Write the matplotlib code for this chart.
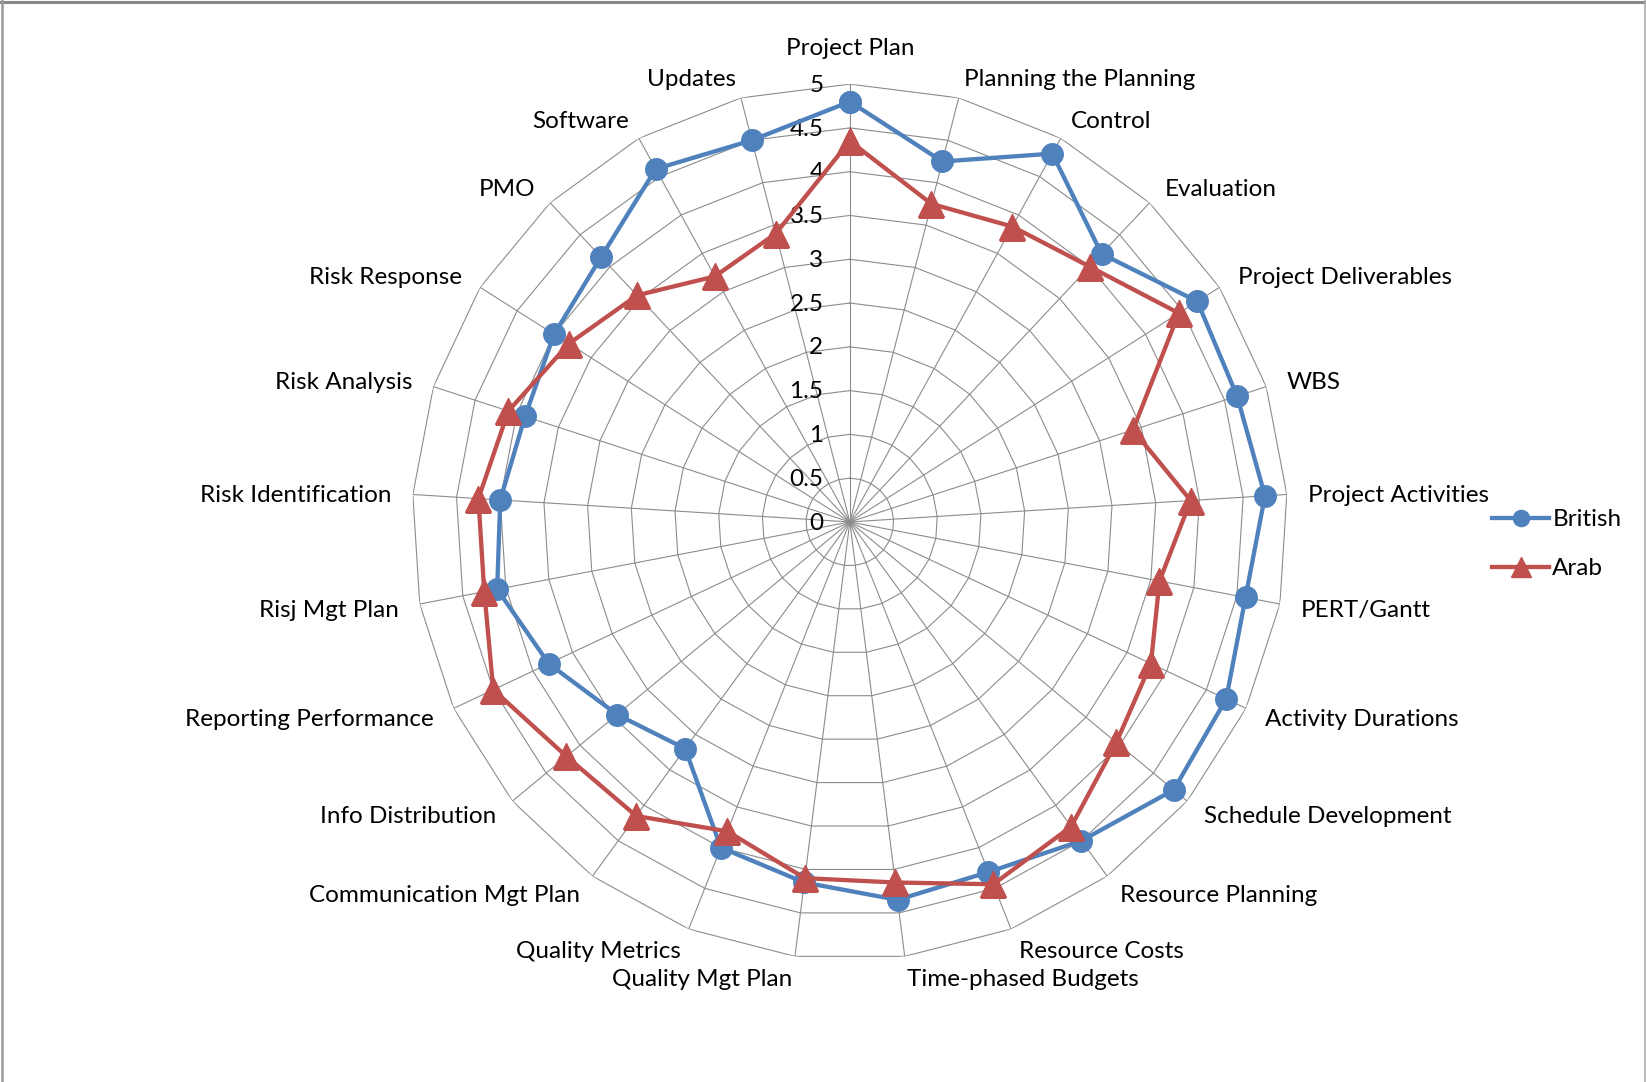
import matplotlib
matplotlib.use("Agg")
import matplotlib.pyplot as plt
from matplotlib.lines import Line2D
import numpy as np

categories = [
    "Project Plan", "Planning the Planning", "Control", "Evaluation",
    "Project Deliverables", "WBS", "Project Activities", "PERT/Gantt",
    "Activity Durations", "Schedule Development", "Resource Planning",
    "Resource Costs", "Time-phased Budgets", "Quality Mgt Plan",
    "Quality Metrics", "Communication Mgt Plan", "Info Distribution",
    "Reporting Performance", "Risj Mgt Plan", "Risk Identification",
    "Risk Analysis", "Risk Response", "PMO", "Software", "Updates",
]
british = [4.8, 4.25, 4.8, 4.2, 4.7, 4.65, 4.75, 4.6, 4.75, 4.8, 4.5, 4.3,
           4.35, 4.15, 4.0, 3.2, 3.45, 3.8, 4.1, 4.0, 3.9, 4.0, 4.15, 4.6, 4.5]
arab = [4.35, 3.75, 3.85, 4.0, 4.45, 3.4, 3.9, 3.6, 3.8, 3.95, 4.3, 4.45,
        4.15, 4.1, 3.8, 4.15, 4.2, 4.5, 4.25, 4.25, 4.1, 3.8, 3.55, 3.2, 3.4]
rings = [0.5, 1, 1.5, 2, 2.5, 3, 3.5, 4, 4.5, 5]
ring_labels = ["0", "0.5", "1", "1.5", "2", "2.5", "3", "3.5", "4", "4.5", "5"]

BLUE = "#4F81BD"
RED = "#C0504D"
GRID = "#8C8C8C"
FONT = "Lato"
FS = 17.5

plt.rcParams["font.family"] = [FONT, "DejaVu Sans"]

fig = plt.figure(figsize=(16.46, 10.82), dpi=100)
ax = fig.add_axes([0.2503, 0.1128, 0.532, 0.8096], projection="polar")
ax.set_theta_zero_location("N")
ax.set_theta_direction(-1)
ax.set_ylim(0, 5)
ax.grid(False)
ax.spines["polar"].set_visible(False)
ax.set_xticks([])
ax.set_yticks([])
ax.patch.set_alpha(0)

n = len(categories)
theta = np.linspace(0, 2 * np.pi, n, endpoint=False)
theta_closed = np.append(theta, theta[0])

# polygon web: rings plus spokes
for r in rings:
    ax.plot(theta_closed, [r] * (n + 1), color=GRID, lw=0.8, zorder=1)
for t in theta:
    ax.plot([t, t], [0, 5], color=GRID, lw=0.8, zorder=1)

# radial scale labels left of the vertical spoke
for i, lab in enumerate(ring_labels):
    ax.annotate(lab, xy=(0, i * 0.5), xytext=(-19, -0.8), textcoords="offset points",
                ha="right", va="center", fontsize=FS, color="black", zorder=2)

# category labels just outside the outer ring
for t, name in zip(theta, categories):
    s, c = np.sin(t), np.cos(t)
    if abs(s) < 0.05:
        ax.annotate(name, xy=(t, 5), xytext=(0, 26), textcoords="offset points",
                    ha="center", va="center", fontsize=FS)
        continue
    d = 15.5
    ax.annotate(name, xy=(t, 5), xytext=(d * s, d * c - 1.5), textcoords="offset points",
                ha="left" if s > 0 else "right", va="center", fontsize=FS)

ax.plot(theta_closed, british + british[:1], color=BLUE, lw=3.1, marker="o",
        markersize=15.5, label="British", zorder=4)
ax.plot(theta_closed, arab + arab[:1], color=RED, lw=3.1, marker="^",
        markersize=19, label="Arab", zorder=5)

fig.legend(loc="center left", bbox_to_anchor=(0.8992, 0.497), frameon=False,
           fontsize=FS, handlelength=2.35, handletextpad=0.12, labelspacing=1.15,
           borderpad=0, markerscale=0.75)

# chart frame (top, left, right)
fig.add_artist(Line2D([0, 1], [0.998, 0.998], transform=fig.transFigure,
                      color="#888888", lw=2.2))
fig.add_artist(Line2D([0.0012, 0.0012], [0, 1], transform=fig.transFigure,
                      color="#999999", lw=1.8))
fig.add_artist(Line2D([0.9992, 0.9992], [0, 1], transform=fig.transFigure,
                      color="#AAAAAA", lw=1.2))

fig.savefig("out.png", dpi=100)
plt.close(fig)
